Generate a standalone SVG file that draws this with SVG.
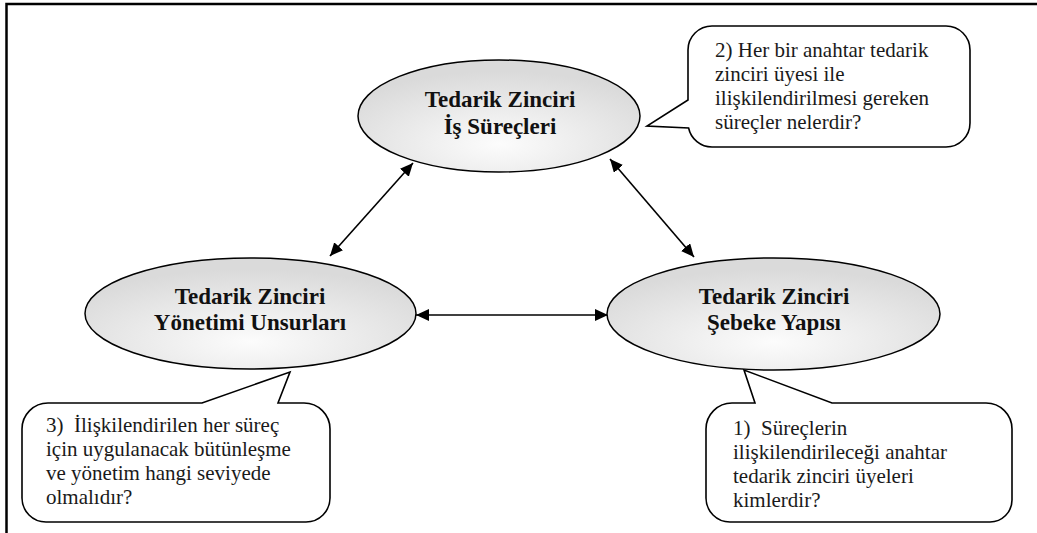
<svg xmlns="http://www.w3.org/2000/svg" width="1037" height="533" viewBox="0 0 1037 533">
<style>
.frame{stroke:#000;stroke-width:2.5;fill:none}
.node ellipse{fill:url(#eg);stroke:#000;stroke-width:1.5}
.node text{font-weight:bold;font-size:23px;fill:#111;text-anchor:middle}
.callout path{fill:#fff;stroke:#000;stroke-width:1.6;stroke-linejoin:miter}
.callout text{font-size:21px;fill:#1a1a1a}
.conn line{stroke:#000;stroke-width:1.6;marker-start:url(#ah);marker-end:url(#ah)}
</style>
<defs>
<radialGradient id="eg" cx="50%" cy="75%" r="65%">
<stop offset="0" stop-color="#fcfcfc"/>
<stop offset="1" stop-color="#dadada"/>
</radialGradient>
<marker id="ah" markerUnits="userSpaceOnUse" markerWidth="14" markerHeight="12" refX="13" refY="6" orient="auto-start-reverse">
<path d="M0,0 L13,6 L0,12 z" fill="#000"/>
</marker>
</defs>
<rect width="1037" height="533" fill="#fff"/>
<path class="frame" d="M6.5,533 V4 H1037"/>

<g id="connectors" class="conn">
<line x1="330" y1="256" x2="413" y2="163"/>
<line x1="610" y1="159" x2="694" y2="257"/>
<line x1="416" y1="315" x2="608" y2="315"/>
</g>

<g font-family="Liberation Serif, Times New Roman, serif">
<g id="node-is-surecleri" class="node">
<ellipse cx="499" cy="116" rx="141" ry="56"/>
<text x="500" y="107">Tedarik Zinciri</text>
<text x="500" y="134">İş Süreçleri</text>
</g>

<g id="node-yonetim-unsurlari" class="node">
<ellipse cx="250.5" cy="313.5" rx="165.5" ry="55.5"/>
<text x="250" y="304">Tedarik Zinciri</text>
<text x="250" y="330">Yönetimi Unsurları</text>
</g>

<g id="node-sebeke-yapisi" class="node">
<ellipse cx="773.5" cy="314" rx="166.5" ry="56"/>
<text x="774" y="304">Tedarik Zinciri</text>
<text x="774" y="330">Şebeke Yapısı</text>
</g>

<g id="callout-2" class="callout">
<path d="M712,26 H946 A24,24 0 0 1 970,50 V123 A24,24 0 0 1 946,147 H712 A24,24 0 0 1 688.6,128 L647,126 L688,100 V50 A24,24 0 0 1 712,26 Z"/>
<text x="715" y="57">2) Her bir anahtar tedarik</text>
<text x="715" y="81">zinciri üyesi ile</text>
<text x="715" y="105">ilişkilendirilmesi gereken</text>
<text x="715" y="129">süreçler nelerdir?</text>
</g>

<g id="callout-3" class="callout">
<path d="M48,403 H202 L290,372 L278,403 H304 A26,26 0 0 1 330,429 V498 A24,24 0 0 1 306,522 H46 A24,24 0 0 1 22,498 V429 A26,26 0 0 1 48,403 Z"/>
<text x="46" y="432" xml:space="preserve">3)  İlişkilendirilen her süreç</text>
<text x="46" y="456">için uygulanacak bütünleşme</text>
<text x="46" y="480">ve yönetim hangi seviyede</text>
<text x="46" y="504">olmalıdır?</text>
</g>

<g id="callout-1" class="callout">
<path d="M732,403 H755 L744,370 L832,403 H986 A26,26 0 0 1 1012,429 V500 A22,22 0 0 1 990,522 H730 A24,24 0 0 1 706,498 V429 A26,26 0 0 1 732,403 Z"/>
<text x="733" y="435" xml:space="preserve">1)  Süreçlerin</text>
<text x="733" y="459">ilişkilendirileceği anahtar</text>
<text x="733" y="483">tedarik zinciri üyeleri</text>
<text x="733" y="507">kimlerdir?</text>
</g>
</g>
</svg>
